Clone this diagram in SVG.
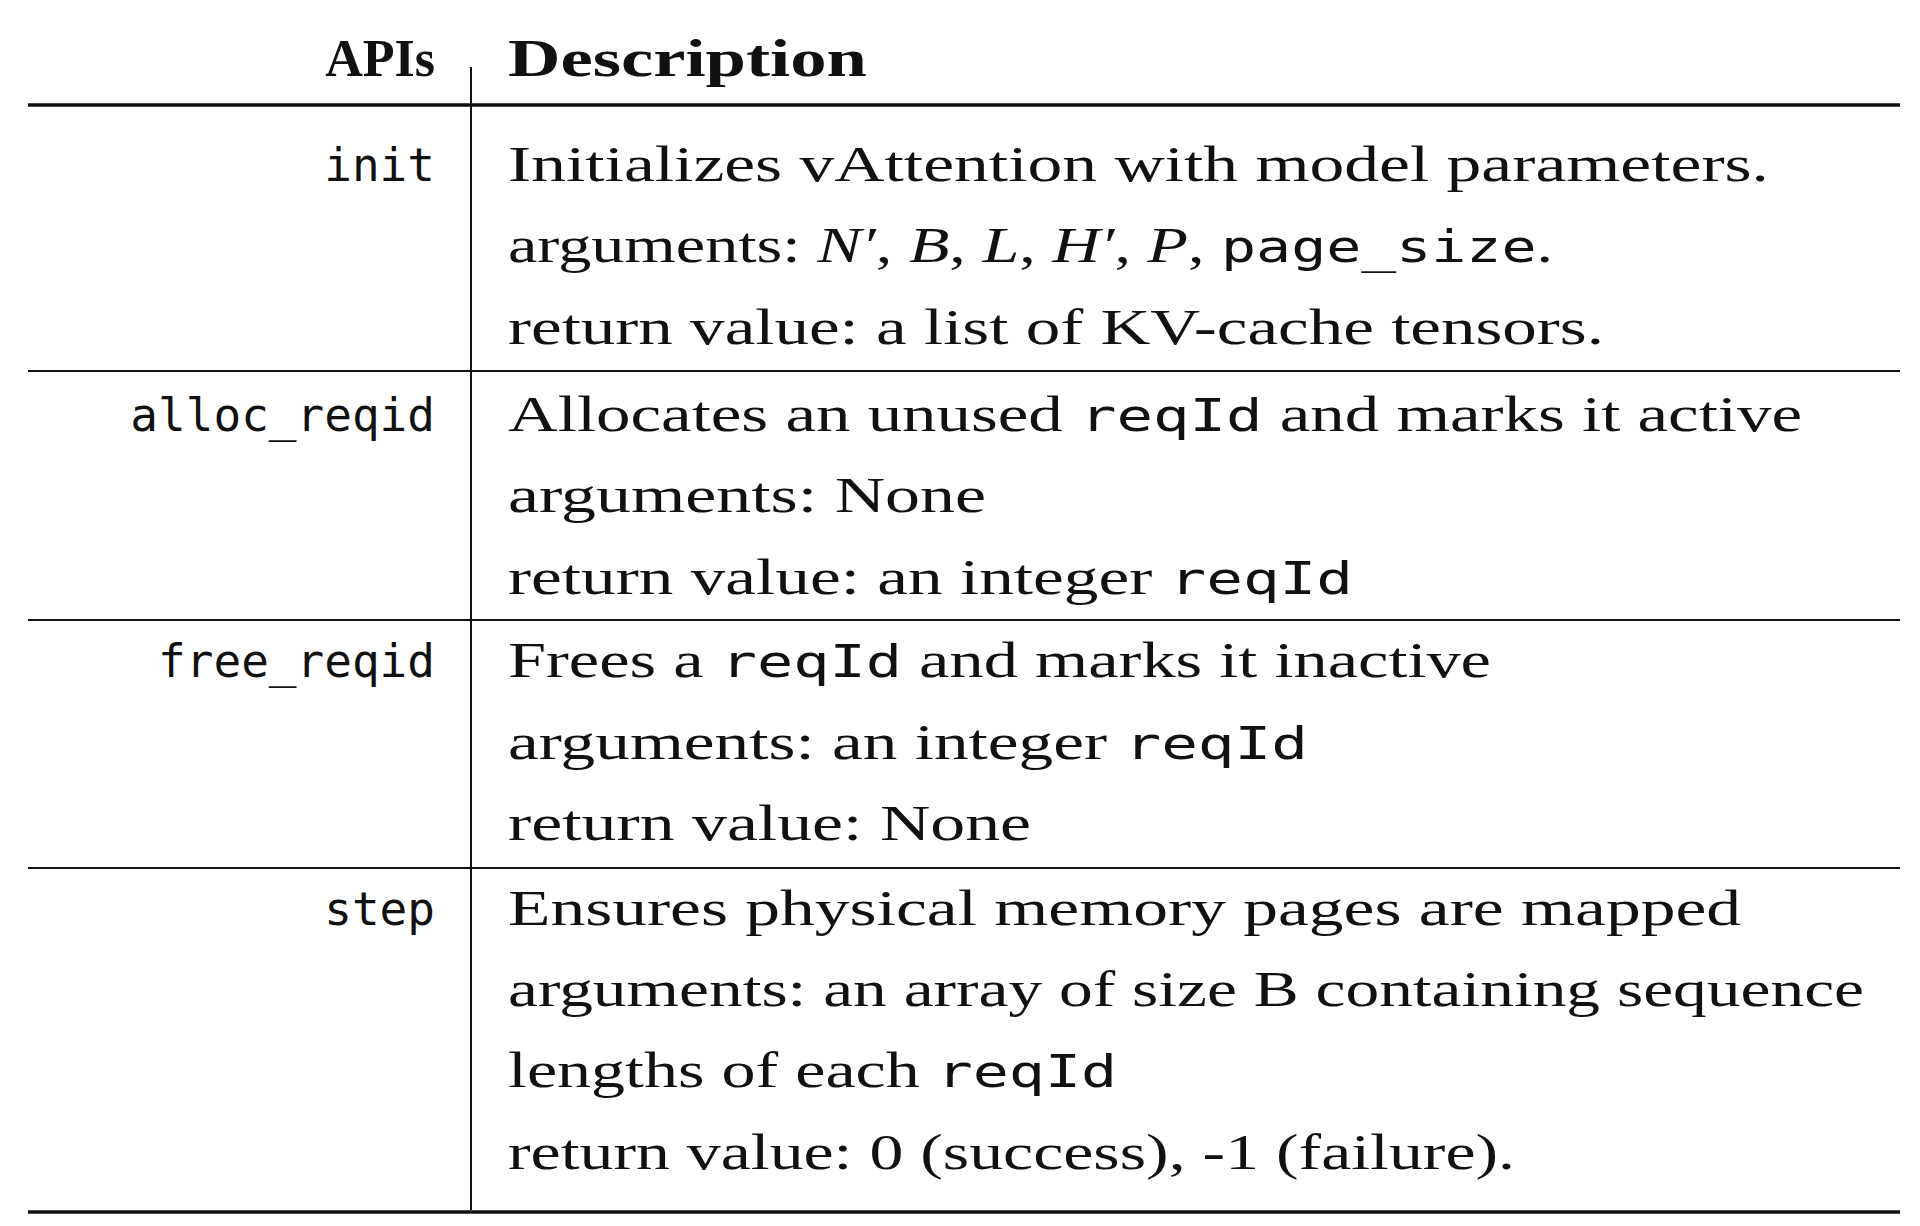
<svg xmlns="http://www.w3.org/2000/svg" width="1920" height="1226" viewBox="0 0 1920 1226">
<style>
.d{font-family:"Liberation Serif",serif;font-size:50px;fill:#111}
.m{font-family:"DejaVu Sans Mono","Liberation Mono",monospace;font-size:44px}
.a{font-family:"DejaVu Sans Mono","Liberation Mono",monospace;font-size:46px;fill:#111;text-anchor:end}
.h{font-family:"Liberation Serif",serif;font-size:52px;font-weight:bold;fill:#111}
.i{font-style:italic}
line{stroke:#111}
</style>
<rect width="1920" height="1226" fill="#fff"/>
<g id="rules">
<line x1="28" y1="105" x2="1900" y2="105" stroke-width="3.5"/>
<line x1="28" y1="1212" x2="1900" y2="1212" stroke-width="3.5"/>
<line x1="28" y1="371" x2="1900" y2="371" stroke-width="2"/>
<line x1="28" y1="620" x2="1900" y2="620" stroke-width="2"/>
<line x1="28" y1="868" x2="1900" y2="868" stroke-width="2"/>
<line x1="471" y1="67" x2="471" y2="1210" stroke-width="2"/>
</g>
<g id="header">
<text class="h" x="435" y="76" text-anchor="end">APIs</text>
<text class="h" x="508" y="76" textLength="359" lengthAdjust="spacingAndGlyphs">Description</text>
</g>
<g id="row-init">
<text class="a" x="435" y="181">init</text>
<text class="d" x="508" y="181" textLength="1261" lengthAdjust="spacingAndGlyphs">Initializes vAttention with model parameters.</text>
<text class="d" x="508" y="262" textLength="1045" lengthAdjust="spacingAndGlyphs">arguments: <tspan class="i">N′</tspan>, <tspan class="i">B</tspan>, <tspan class="i">L</tspan>, <tspan class="i">H′</tspan>, <tspan class="i">P</tspan>, <tspan class="m">page_size</tspan>.</text>
<text class="d" x="508" y="344" textLength="1096" lengthAdjust="spacingAndGlyphs">return value: a list of KV-cache tensors.</text>
</g>
<g id="row-alloc">
<text class="a" x="435" y="431">alloc_reqid</text>
<text class="d" x="508" y="431" textLength="1294" lengthAdjust="spacingAndGlyphs">Allocates an unused <tspan class="m">reqId</tspan> and marks it active</text>
<text class="d" x="508" y="512" textLength="478" lengthAdjust="spacingAndGlyphs">arguments: None</text>
<text class="d" x="508" y="594" textLength="845" lengthAdjust="spacingAndGlyphs">return value: an integer <tspan class="m">reqId</tspan></text>
</g>
<g id="row-free">
<text class="a" x="435" y="677">free_reqid</text>
<text class="d" x="508" y="677" textLength="983" lengthAdjust="spacingAndGlyphs">Frees a <tspan class="m">reqId</tspan> and marks it inactive</text>
<text class="d" x="508" y="759" textLength="800" lengthAdjust="spacingAndGlyphs">arguments: an integer <tspan class="m">reqId</tspan></text>
<text class="d" x="508" y="840" textLength="523" lengthAdjust="spacingAndGlyphs">return value: None</text>
</g>
<g id="row-step">
<text class="a" x="435" y="925">step</text>
<text class="d" x="508" y="925" textLength="1233" lengthAdjust="spacingAndGlyphs">Ensures physical memory pages are mapped</text>
<text class="d" x="508" y="1006" textLength="1356" lengthAdjust="spacingAndGlyphs">arguments: an array of size B containing sequence</text>
<text class="d" x="508" y="1087" textLength="609" lengthAdjust="spacingAndGlyphs">lengths of each <tspan class="m">reqId</tspan></text>
<text class="d" x="508" y="1169" textLength="1007" lengthAdjust="spacingAndGlyphs">return value: 0 (success), -1 (failure).</text>
</g>
</svg>
